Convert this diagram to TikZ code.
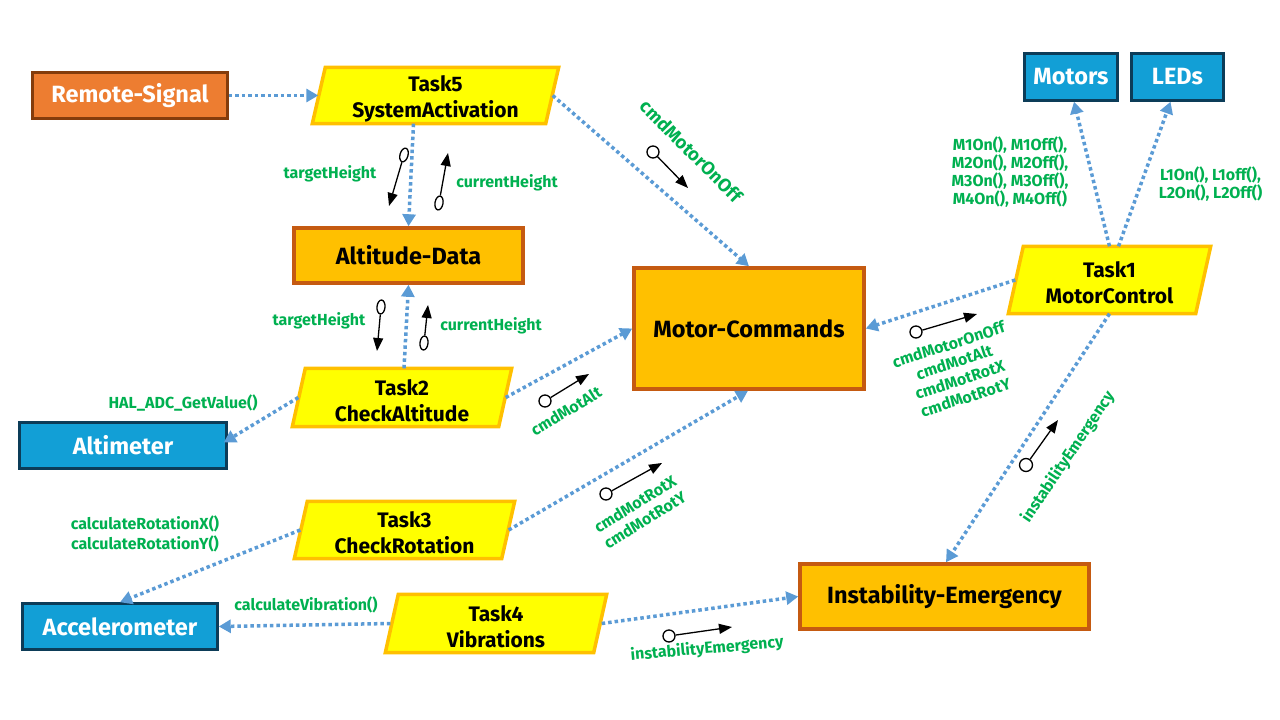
\documentclass[tikz,border=0pt]{standalone}
\usepackage{fontspec}
\setmainfont{Fira Sans}
\usetikzlibrary{arrows.meta,backgrounds,shapes.geometric}
\definecolor{lblue}{HTML}{5B9BD5}
\definecolor{yfill}{HTML}{FFFF00}
\definecolor{ydraw}{HTML}{FFC000}
\definecolor{ofill}{HTML}{FFC000}
\definecolor{odraw}{HTML}{C55A11}
\definecolor{rfill}{HTML}{ED7D31}
\definecolor{rdraw}{HTML}{843C0C}
\definecolor{bfill}{HTML}{129FD6}
\definecolor{bdraw}{HTML}{0C3C58}
\definecolor{lgreen}{HTML}{00B050}
\tikzset{
  box/.style={rectangle, inner sep=0, font=\fontsize{23.5}{26}\selectfont\bfseries},
  obox/.style={box, fill=ofill, draw=odraw, line width=3.5pt},
  rbox/.style={box, fill=rfill, draw=rdraw, line width=2.5pt, text=white},
  bbox/.style={box, fill=bfill, draw=bdraw, line width=2.5pt, text=white},
  task/.style={rectangle, inner sep=0, align=center, font=\fontsize{21}{26}\selectfont\bfseries},
  pgramstyle/.style={fill=yfill, draw=ydraw, line width=3.5pt, line join=miter},
  lbl/.style={text=lgreen, inner sep=0, align=center, font=\fontsize{16}{18.5}\selectfont\bfseries},
  flow/.style={draw=lblue, line width=3.5pt, dash pattern=on 3.5pt off 3pt, -{Triangle[length=12pt,width=13pt]}},
  lcirc/.style={circle, draw=black, line width=1.3pt, fill=white, inner sep=0, minimum size=12pt},
  lell/.style={ellipse, draw=black, line width=1.3pt, fill=white, inner sep=0, minimum width=8pt, minimum height=14pt},
  larrow/.style={draw=black, line width=1.3pt, -{Triangle[length=13pt,width=10pt]}}
}
\newcommand\tup{\rule{0pt}{22pt}}
\newcommand\pgram[2]{\begin{pgfonlayer}{background}\draw[pgramstyle] (#1.south west) -- ([xshift=#2]#1.north west) -- (#1.north east) -- ([xshift=-#2]#1.south east) -- cycle;\end{pgfonlayer}}
\begin{document}
\begin{tikzpicture}[x=1pt,y=-1pt]
\useasboundingbox (0,0) rectangle (1280,720);

% task parallelograms
\node[task, minimum width=246, minimum height=56] (t5) at (435.5,95.5) {\tup Task5\\SystemActivation};
\node[task, minimum width=219, minimum height=58] (t2) at (402,397.5) {\tup Task2\\CheckAltitude};
\node[task, minimum width=220, minimum height=57] (t3) at (404.5,530) {\tup Task3\\CheckRotation};
\node[task, minimum width=221, minimum height=58] (t4) at (496,623.5) {\tup Task4\\Vibrations};
\node[task, minimum width=202, minimum height=67] (t1) at (1109.5,280) {\tup Task1\\MotorControl};
\pgram{t5}{13}
\pgram{t2}{13}
\pgram{t3}{13}
\pgram{t4}{13}
\pgram{t1}{15}

% boxes
\node[rbox, minimum width=195, minimum height=46] (rs) at (130,95.5) {Remote-Signal};
\node[obox, minimum width=229, minimum height=55] (ad) at (408.5,255.5) {Altitude-Data};
\node[obox, minimum width=230, minimum height=121] (mc) at (749,328.5) {Motor-Commands};
\node[bbox, minimum width=207, minimum height=46] (alt) at (123,445.5) {Altimeter};
\node[bbox, minimum width=195, minimum height=46] (acc) at (120,626.5) {Accelerometer};
\node[obox, minimum width=289, minimum height=65] (ie) at (944.5,596.5) {Instability-Emergency};
\node[bbox, minimum width=93, minimum height=47] (mot) at (1071,77) {Motors};
\node[bbox, minimum width=92, minimum height=47] (led) at (1177.5,77) {LEDs};

% connectors
\draw[flow] (rs.east) -- ([xshift=6]t5.west);
\draw[flow] ([xshift=-22]t5.south) -- (ad.north);
\draw[flow] ([xshift=2]t2.north) -- (ad.south);
\draw[flow] ([xshift=-6]t5.east) -- (mc.north);
\draw[flow] ([xshift=-6]t2.east) -- (mc.west);
\draw[flow] ([xshift=6]t2.west) -- ([xshift=-4,yshift=3]alt.east);
\draw[flow] ([xshift=-6]t3.east) -- ([xshift=-1]mc.south);
\draw[flow] ([xshift=6]t3.west) -- (acc.north);
\draw[flow] ([xshift=5]t4.west) -- (acc.east);
\draw[flow] ([xshift=-5]t4.east) -- (ie.west);
\draw[flow] ([xshift=7]t1.west) -- (mc.east);
\draw[flow] (t1.north) -- ([xshift=3]mot.south);
\draw[flow] ([xshift=9]t1.north) -- ([xshift=-7]led.south);
\draw[flow] (t1.south) -- ([xshift=1.5]ie.north);

% lollipop annotations
\node[lell, rotate=-16] (ka) at (404,155) {};
\node[lell, rotate=-10] (kb) at (439,203) {};
\node[lell, rotate=-5] (kc) at (381,307) {};
\node[lell, rotate=-6] (kd) at (424,343) {};
\node[lcirc] (ke) at (653,152) {};
\node[lcirc] (kf) at (545,401) {};
\node[lcirc] (kg) at (916,332) {};
\node[lcirc] (kh) at (606,494) {};
\node[lcirc, minimum width=11pt, minimum height=13pt] (ki) at (1026,465) {};
\node[lcirc] (kj) at (669,636) {};
\draw[larrow] (ka) -- (389,206) coordinate (ka2);
\draw[larrow] (kb) -- (448,153) coordinate (kb2);
\draw[larrow] (kc) -- (377,351) coordinate (kc2);
\draw[larrow] (kd) -- (428,305) coordinate (kd2);
\draw[larrow] (ke) -- (688,188) coordinate (ke2);
\draw[larrow] (kf) -- (589,374) coordinate (kf2);
\draw[larrow] (kg) -- (977,314) coordinate (kg2);
\draw[larrow] (kh) -- (662,463) coordinate (kh2);
\draw[larrow] (ki) -- (1058,420) coordinate (ki2);
\draw[larrow] (kj) -- (732,627) coordinate (kj2);

% labels
\node[lbl] (g1) at (330,174) {targetHeight};
\node[lbl] (g2) at (507,183) {currentHeight};
\node[lbl] (g3) at (319,321) {targetHeight};
\node[lbl] (g4) at (491,326) {currentHeight};
\node[lbl] (g5) at (183,403) {HAL\_ADC\_GetValue()};
\node[lbl, font=\fontsize{16}{20}\selectfont\bfseries] (g6) at (145,534) {calculateRotationX()\\calculateRotationY()};
\node[lbl] (g7) at (306,605) {calculateVibration()};
\node[lbl, font=\fontsize{16}{17.7}\selectfont\bfseries] (g8) at (1010,172) {M1On(), M1Off(),\\M2On(), M2Off(),\\M3On(), M3Off(),\\M4On(), M4Off()};
\node[lbl, font=\fontsize{16}{18.5}\selectfont\bfseries] (g9) at (1210.5,184) {L1On(), L1off(),\\L2On(), L2Off()};
\node[lbl, rotate=-45, font=\fontsize{18.5}{20}\selectfont\bfseries] (g10) at (691,151) {cmdMotorOnOff};
\node[lbl, rotate=31] (g11) at (566,411) {cmdMotAlt};
\node[lbl, rotate=18] (g12) at (957,371) {cmdMotorOnOff\\cmdMotAlt\\cmdMotRotX\\cmdMotRotY};
\node[lbl, rotate=32] (g13) at (640,512) {cmdMotRotX\\cmdMotRotY};
\node[lbl, rotate=56] (g14) at (1068,457) {instabilityEmergency};
\node[lbl, rotate=5] (g15) at (707,649) {instabilityEmergency};
\end{tikzpicture}
\end{document}
